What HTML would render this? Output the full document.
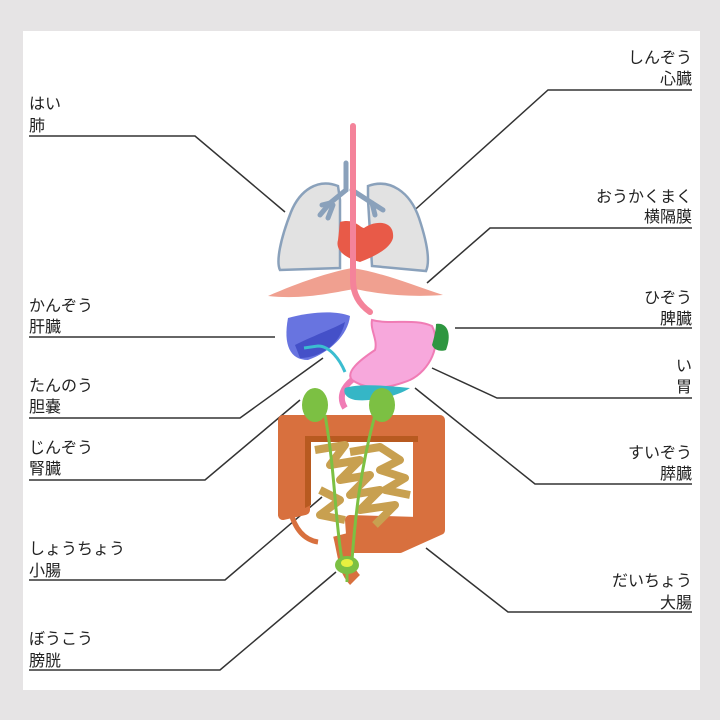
<!DOCTYPE html>
<html><head><meta charset="utf-8"><style>
html,body{margin:0;padding:0;background:#e6e4e5;}
svg{display:block}
text{font-family:"Liberation Sans","Noto Sans CJK JP",sans-serif;font-size:16px;fill:#222;}
</style></head><body>
<svg width="720" height="720" viewBox="0 0 720 720">
<rect x="0" y="0" width="720" height="720" fill="#e6e4e5"/>
<rect x="23" y="31" width="677" height="659" fill="#fff"/>
<g stroke="#333" stroke-width="1.5" fill="none">
<polyline points="29,136 195,136 285,212"/>
<polyline points="692,90 548,90 398,225"/>
<polyline points="692,228 490,228 427,283"/>
<polyline points="29,337 275,337"/>
<polyline points="692,328 455,328"/>
<polyline points="29,418 240,418 323,358"/>
<polyline points="692,398 497,398 432,368"/>
<polyline points="29,480 205,480 300,400"/>
<polyline points="692,484 535,484 415,388"/>
<polyline points="29,580 225,580 322,497"/>
<polyline points="692,612 508,612 426,548"/>
<polyline points="29,670 220,670 336,572"/>
</g>
<g>
<text x="29" y="109">はい</text><text x="29" y="131">肺</text>
<text x="29" y="311">かんぞう</text><text x="29" y="332">肝臓</text>
<text x="29" y="391">たんのう</text><text x="29" y="412">胆嚢</text>
<text x="29" y="453">じんぞう</text><text x="29" y="474">腎臓</text>
<text x="29" y="554">しょうちょう</text><text x="29" y="576">小腸</text>
<text x="29" y="644">ぼうこう</text><text x="29" y="666">膀胱</text>
</g>
<g text-anchor="end">
<text x="692" y="63">しんぞう</text><text x="692" y="84">心臓</text>
<text x="692" y="202">おうかくまく</text><text x="692" y="222">横隔膜</text>
<text x="692" y="303">ひぞう</text><text x="692" y="324">脾臓</text>
<text x="692" y="371">い</text><text x="692" y="392">胃</text>
<text x="692" y="458">すいぞう</text><text x="692" y="479">膵臓</text>
<text x="692" y="586">だいちょう</text><text x="692" y="608">大腸</text>
</g>
<!-- lungs -->
<path d="M338,186 C318,178 300,190 291,212 C280,240 276,262 280,270 L340,268 L340,200 Z" fill="#e2e2e2" stroke="#8aa1bb" stroke-width="2.5"/>
<path d="M368,186 C390,178 410,192 419,218 C428,245 430,262 426,271 L372,266 L368,200 Z" fill="#e2e2e2" stroke="#8aa1bb" stroke-width="2.5"/>
<g stroke="#8aa1bb" stroke-width="5" stroke-linecap="round" fill="none">
<path d="M346,163 L346,190 L330,203 L320,215"/><path d="M330,203 L322,205"/><path d="M333,205 L328,218"/>
<path d="M352,190 L372,203 L383,210"/><path d="M372,203 L375,215"/>
</g>
<!-- heart -->
<path d="M340,222 C355,218 360,228 364,228 C375,220 395,220 393,238 C390,250 370,258 360,262 C345,258 335,250 338,240 Z" fill="#e85a48"/>
<!-- diaphragm -->
<path d="M268,296 C300,282 330,272 352,268 C380,272 410,284 443,295 C400,298 370,292 355,289 C335,292 305,300 268,296 Z" fill="#f0a090"/>
<!-- esophagus -->
<path d="M353,126 L353,280 C353,295 360,305 370,312" stroke="#f4839a" stroke-width="6" fill="none" stroke-linecap="round"/>
<!-- liver -->
<path d="M288,318 C310,312 335,310 350,316 C348,335 330,352 308,360 C290,360 283,345 288,318 Z" fill="#6874e0"/>
<path d="M295,345 C315,335 335,328 345,322 C340,345 320,358 300,358 Z" fill="#4450c8"/>
<path d="M304,348 L318,346 C330,346 340,360 345,372" stroke="#3bbdd0" stroke-width="3" fill="none"/>
<!-- stomach -->
<path d="M372,320 C390,325 415,318 432,326 C442,345 430,370 410,380 C390,388 370,392 352,380 C345,372 360,360 375,350 C378,340 370,330 372,320 Z" fill="#f7a8dc" stroke="#f07cb5" stroke-width="2"/>
<path d="M352,380 C340,390 340,400 345,408" stroke="#f07cb5" stroke-width="6" fill="none"/>
<!-- spleen -->
<path d="M436,324 C448,322 452,335 446,350 C440,352 434,350 432,345 C434,338 436,330 436,324 Z" fill="#2e9640"/>
<!-- pancreas -->
<path d="M345,388 C360,383 390,386 410,388 C400,395 375,402 355,400 C345,398 343,392 345,388 Z" fill="#35b6c6"/>
<!-- colon -->
<path d="M283,420 L440,420 L440,530 L400,548 L352,548 L350,520 L418,522 L418,436 L305,436 L305,510 L283,515 Z" fill="#d8703e" stroke="#d8703e" stroke-width="10" stroke-linejoin="round"/>
<path d="M305,436 L418,436 L418,442 L311,442 L311,505 L305,508 Z" fill="#b85a20"/>
<path d="M290,510 C295,530 305,540 318,542" stroke="#d8703e" stroke-width="5" fill="none"/>
<path d="M340,535 C345,555 345,570 355,580" stroke="#d8703e" stroke-width="14" fill="none"/>
<!-- small intestine -->
<path d="M315,450 L345,445 L330,465 L360,460 L340,480 L370,475 L350,495 L380,490 L360,510 L395,505 L375,525 M350,452 L380,447 L400,460 L380,470 L405,478 L385,490 L410,495 M320,490 L340,500 L320,515 L345,520" stroke="#c8a050" stroke-width="8" fill="none" stroke-linejoin="round"/>
<!-- kidneys & ureters -->
<ellipse cx="315" cy="405" rx="13" ry="17" fill="#7cc043"/>
<ellipse cx="382" cy="405" rx="13" ry="17" fill="#7cc043"/>
<path d="M325,415 C335,470 335,520 342,560 M375,415 C360,470 355,520 352,560" stroke="#7cc043" stroke-width="3" fill="none"/>
<ellipse cx="347" cy="565" rx="12" ry="9" fill="#7cc043"/>
<ellipse cx="347" cy="563" rx="6" ry="4" fill="#e8f040"/>
<path d="M347,572 L347,582" stroke="#7cc043" stroke-width="3"/>
</svg>
</body></html>
